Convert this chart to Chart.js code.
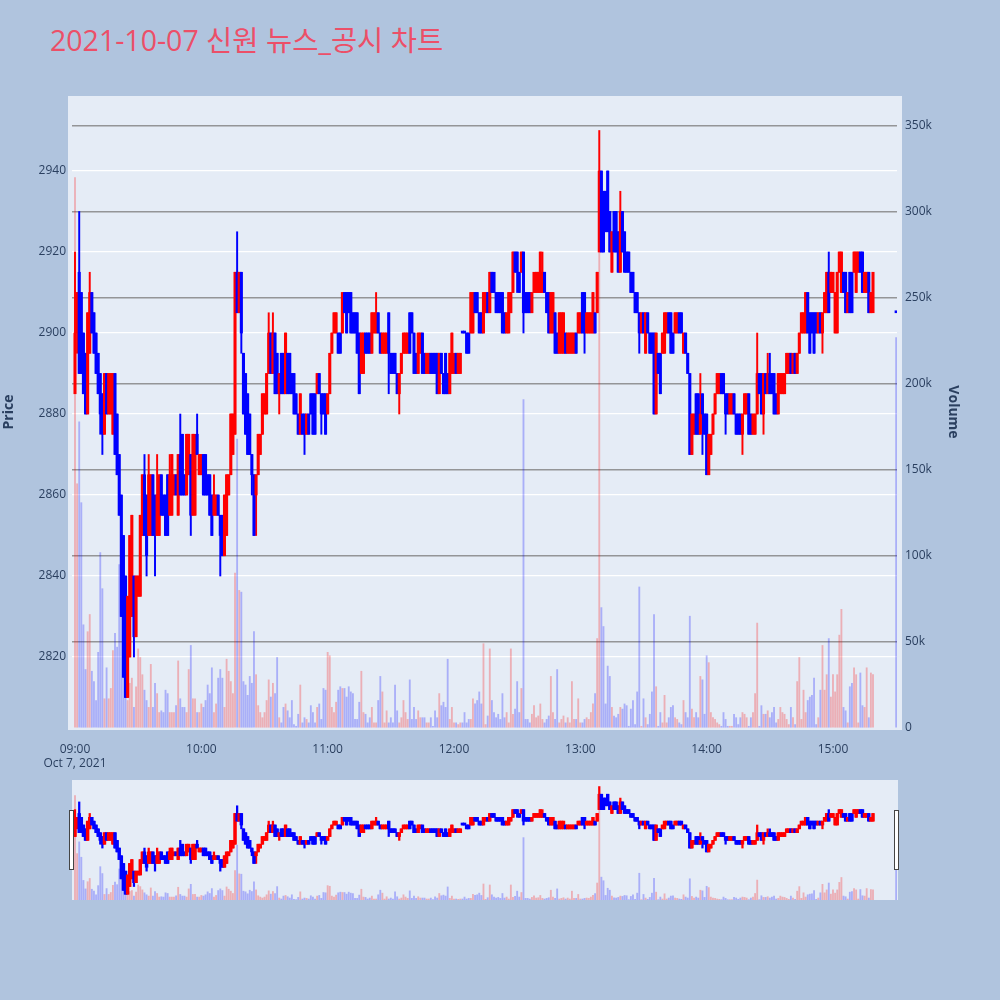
<!DOCTYPE html>
<html lang="ko">
<head>
    <meta charset="UTF-8">
    <title>2021-10-07 신원 뉴스_공시 차트</title>
    <script src="https://cdn.jsdelivr.net/npm/chart.js"></script>
    <style>
        body {
            margin: 0;
            background-color: #b0c4de;
            width: 1000px;
            height: 1000px;
            position: relative;
            overflow: hidden;
            font-family: "Open Sans", "Noto Sans CJK KR", sans-serif;
        }
        .chart-title {
            position: absolute;
            left: 50px;
            top: 22px;
            font-size: 28.5px;
            line-height: 36px;
            color: #ec4f68;
            white-space: nowrap;
        }
        #mainChart { position: absolute; left: 0; top: 0; }
        #sliderChart { position: absolute; left: 0; top: 780px; }
        .slider-handle {
            position: absolute;
            top: 810px;
            width: 3px;
            height: 58px;
            background: #fff;
            border: 1px solid #444;
        }
    </style>
</head>
<body>
    <div class="chart-title">2021-10-07 신원 뉴스_공시 차트</div>
    <canvas id="mainChart" width="1000" height="780"></canvas>
    <canvas id="sliderChart" width="1000" height="120"></canvas>
    <div class="slider-handle" style="left: 69px;"></div>
    <div class="slider-handle" style="left: 894px;"></div>

    <script>
        // one candle per minute from 09:00, plus the 15:30 closing auction
        const opens = [
            2885,2900,2915,2910,2900,2895,2880,2895,2910,2905,2900,2895,2890,2885,2875,2890,2880,2880,2875,2890,
            2880,2870,2860,2850,2840,2810,2820,2830,2840,2825,2835,2835,2850,2865,2860,2850,2850,2865,2860,2850,
            2850,2865,2860,2860,2865,2855,2855,2860,2865,2855,2870,2875,2865,2860,2865,2870,2855,2855,2875,2865,
            2865,2870,2870,2865,2865,2860,2855,2855,2860,2855,2855,2845,2850,2860,2865,2870,2875,2915,2905,2915,
            2895,2890,2885,2880,2870,2865,2860,2865,2870,2875,2880,2880,2890,2900,2890,2900,2895,2885,2895,2895,
            2885,2895,2895,2890,2890,2885,2880,2875,2880,2880,2875,2880,2885,2885,2885,2885,2890,2885,2885,2885,
            2880,2885,2895,2900,2900,2900,2900,2900,2910,2910,2910,2910,2905,2905,2905,2900,2890,2890,2900,2900,
            2900,2895,2900,2900,2905,2900,2895,2895,2895,2905,2895,2895,2895,2890,2885,2890,2895,2895,2895,2905,
            2905,2900,2895,2890,2895,2900,2895,2890,2890,2895,2895,2895,2895,2885,2895,2890,2895,2890,2885,2890,
            2890,2895,2890,2890,2900,2900,2900,2900,2900,2900,2910,2910,2905,2905,2900,2905,2910,2905,2915,2915,
            2910,2910,2910,2910,2905,2900,2900,2905,2910,2920,2920,2915,2915,2920,2910,2910,2910,2905,2910,2910,
            2910,2910,2910,2915,2910,2910,2900,2900,2905,2900,2895,2895,2895,2900,2895,2895,2895,2895,2900,2900,
            2900,2910,2910,2900,2900,2900,2900,2905,2905,2920,2940,2935,2935,2940,2930,2915,2930,2930,2925,2915,
            2930,2925,2920,2920,2915,2915,2910,2910,2905,2900,2905,2895,2905,2900,2900,2900,2880,2895,2895,2895,
            2895,2900,2905,2905,2900,2900,2900,2905,2905,2895,2900,2895,2890,2870,2875,2885,2885,2875,2885,2880,
            2880,2865,2870,2875,2880,2885,2885,2890,2890,2885,2885,2880,2880,2885,2880,2880,2880,2875,2880,2880,
            2885,2880,2875,2875,2880,2890,2890,2880,2890,2885,2890,2890,2890,2885,2880,2885,2885,2885,2890,2890,
            2895,2890,2895,2890,2895,2900,2900,2900,2910,2905,2905,2905,2905,2900,2905,2900,2905,2905,2915,2910,
            2910,2900,2900,2915,2910,2915,2915,2905,2915,2915,2915,2910,2915,2920,2920,2910,2910,2915,2905,2905,
            2905
        ];
        const highs = [
            2920,2910,2930,2910,2900,2895,2905,2915,2910,2905,2900,2895,2890,2885,2890,2890,2890,2890,2890,2890,
            2880,2870,2860,2850,2840,2835,2850,2855,2840,2840,2840,2855,2865,2870,2860,2870,2865,2865,2860,2870,
            2865,2865,2860,2860,2865,2870,2870,2865,2865,2870,2880,2875,2865,2875,2875,2870,2875,2875,2880,2870,
            2870,2870,2870,2865,2865,2860,2865,2860,2860,2855,2855,2860,2865,2865,2880,2880,2915,2925,2915,2915,
            2895,2890,2885,2880,2870,2865,2865,2875,2875,2885,2885,2890,2905,2900,2905,2900,2895,2890,2895,2895,
            2900,2895,2895,2890,2890,2885,2880,2885,2880,2880,2880,2880,2885,2885,2885,2890,2890,2885,2885,2885,
            2885,2895,2900,2905,2905,2900,2900,2910,2910,2910,2910,2910,2905,2905,2905,2900,2900,2900,2900,2900,
            2900,2905,2905,2910,2905,2900,2900,2900,2900,2905,2895,2895,2895,2890,2890,2895,2900,2900,2900,2905,
            2905,2900,2895,2900,2900,2900,2895,2895,2895,2895,2895,2895,2895,2895,2895,2890,2895,2890,2895,2900,
            2895,2895,2895,2895,2900,2900,2900,2900,2910,2910,2910,2910,2905,2905,2910,2910,2910,2915,2915,2915,
            2910,2910,2910,2910,2905,2905,2910,2910,2920,2920,2920,2915,2920,2920,2910,2910,2910,2910,2915,2915,
            2915,2920,2920,2915,2910,2910,2910,2910,2905,2900,2905,2905,2905,2900,2900,2900,2900,2900,2900,2905,
            2905,2910,2910,2905,2905,2905,2910,2905,2915,2950,2940,2935,2935,2940,2930,2925,2930,2930,2925,2935,
            2930,2925,2920,2920,2915,2915,2910,2910,2905,2905,2905,2905,2905,2900,2900,2900,2900,2895,2895,2900,
            2905,2905,2905,2905,2900,2905,2905,2905,2905,2900,2900,2895,2890,2880,2880,2885,2885,2890,2885,2880,
            2880,2875,2875,2880,2885,2890,2890,2890,2890,2885,2885,2885,2885,2885,2880,2880,2880,2880,2885,2885,
            2885,2880,2880,2880,2900,2890,2890,2890,2890,2895,2895,2890,2890,2885,2890,2890,2890,2890,2895,2895,
            2895,2895,2895,2895,2900,2905,2905,2910,2910,2905,2905,2905,2905,2905,2905,2905,2910,2915,2920,2915,
            2915,2910,2915,2920,2920,2915,2915,2910,2915,2915,2920,2920,2920,2920,2920,2915,2915,2915,2910,2915,
            2905
        ];
        const lows = [
            2885,2895,2890,2890,2885,2880,2880,2895,2900,2895,2890,2885,2875,2870,2875,2880,2880,2880,2875,2870,
            2865,2855,2830,2815,2810,2810,2820,2830,2820,2825,2835,2835,2850,2850,2840,2850,2850,2850,2840,2850,
            2850,2855,2855,2850,2850,2855,2855,2860,2860,2855,2860,2860,2860,2860,2865,2850,2855,2855,2870,2865,
            2865,2860,2860,2860,2855,2850,2855,2855,2855,2840,2845,2845,2850,2860,2865,2870,2875,2905,2905,2895,
            2880,2875,2870,2870,2860,2850,2850,2865,2870,2875,2880,2880,2890,2890,2890,2885,2885,2880,2885,2885,
            2885,2885,2885,2885,2880,2880,2875,2875,2875,2870,2875,2875,2880,2875,2875,2885,2885,2875,2880,2875,
            2880,2885,2895,2900,2900,2895,2895,2900,2905,2900,2905,2900,2900,2900,2895,2885,2890,2890,2895,2895,
            2895,2895,2900,2900,2900,2895,2895,2895,2895,2885,2890,2890,2890,2885,2880,2890,2895,2895,2895,2895,
            2900,2890,2890,2890,2895,2890,2890,2890,2890,2890,2890,2890,2885,2885,2890,2885,2885,2885,2885,2890,
            2890,2890,2890,2890,2900,2900,2895,2895,2900,2900,2905,2905,2900,2900,2900,2905,2905,2905,2910,2910,
            2905,2905,2905,2900,2900,2900,2900,2905,2910,2915,2910,2910,2915,2900,2905,2905,2905,2905,2910,2910,
            2910,2910,2910,2910,2905,2900,2900,2900,2895,2895,2895,2895,2895,2895,2895,2895,2895,2895,2895,2900,
            2900,2900,2895,2900,2900,2900,2900,2900,2905,2920,2920,2920,2925,2925,2920,2915,2920,2920,2915,2915,
            2920,2915,2915,2915,2910,2910,2905,2905,2895,2900,2900,2895,2900,2895,2895,2880,2880,2890,2885,2895,
            2895,2900,2900,2895,2895,2900,2900,2900,2900,2895,2895,2890,2870,2870,2875,2875,2875,2875,2870,2875,
            2865,2865,2870,2875,2880,2885,2885,2885,2885,2875,2880,2880,2880,2880,2875,2875,2875,2870,2880,2880,
            2875,2875,2875,2875,2880,2885,2880,2875,2885,2885,2885,2885,2880,2880,2880,2885,2885,2885,2890,2890,
            2890,2890,2890,2890,2895,2900,2900,2900,2900,2895,2900,2895,2900,2900,2900,2895,2905,2905,2905,2910,
            2910,2900,2900,2915,2910,2910,2905,2905,2905,2905,2915,2910,2915,2915,2910,2910,2910,2905,2905,2905,
            2905
        ];
        const closes = [
            2900,2910,2890,2890,2885,2880,2905,2910,2900,2895,2890,2885,2880,2875,2890,2880,2890,2890,2890,2870,
            2865,2855,2830,2815,2810,2835,2850,2855,2825,2840,2840,2855,2865,2850,2845,2865,2865,2850,2855,2860,
            2865,2855,2855,2850,2850,2865,2870,2865,2860,2870,2860,2860,2860,2875,2875,2855,2875,2875,2870,2870,
            2870,2860,2860,2860,2855,2850,2860,2860,2855,2850,2845,2860,2865,2865,2880,2880,2915,2905,2915,2900,
            2880,2875,2870,2870,2865,2850,2865,2875,2875,2885,2885,2890,2900,2890,2900,2885,2885,2890,2885,2885,
            2900,2885,2885,2885,2880,2880,2875,2885,2875,2875,2880,2875,2880,2875,2875,2890,2885,2880,2880,2875,
            2885,2895,2900,2905,2905,2895,2895,2910,2905,2900,2905,2900,2900,2900,2895,2885,2900,2900,2895,2895,
            2895,2905,2905,2905,2900,2895,2900,2900,2900,2895,2890,2890,2890,2885,2890,2895,2900,2900,2900,2895,
            2900,2890,2890,2900,2900,2890,2890,2895,2895,2890,2890,2890,2885,2895,2890,2885,2885,2885,2895,2900,
            2895,2890,2895,2895,2900,2900,2895,2895,2910,2910,2905,2905,2900,2900,2910,2910,2905,2915,2910,2910,
            2905,2905,2905,2900,2900,2905,2910,2910,2920,2915,2915,2910,2920,2905,2905,2905,2905,2910,2915,2915,
            2915,2920,2915,2910,2905,2900,2910,2910,2895,2895,2905,2905,2905,2895,2900,2900,2900,2900,2895,2905,
            2905,2900,2900,2905,2905,2905,2910,2900,2915,2940,2920,2920,2925,2925,2920,2925,2920,2920,2915,2930,
            2920,2915,2915,2915,2910,2910,2905,2905,2900,2905,2900,2905,2900,2895,2895,2880,2900,2890,2885,2900,
            2905,2905,2900,2895,2895,2905,2905,2900,2900,2900,2895,2890,2870,2880,2880,2875,2875,2880,2880,2875,
            2865,2875,2875,2880,2885,2890,2890,2885,2885,2880,2880,2885,2885,2880,2875,2875,2875,2880,2885,2885,
            2875,2875,2880,2880,2890,2885,2880,2890,2885,2890,2885,2885,2880,2880,2890,2890,2890,2890,2895,2895,
            2890,2895,2890,2895,2900,2905,2905,2910,2900,2895,2900,2895,2900,2905,2900,2905,2910,2915,2905,2915,
            2915,2910,2915,2920,2920,2910,2905,2910,2905,2905,2920,2920,2920,2915,2910,2915,2915,2905,2910,2915,
            2905
        ];
        // traded volume per candle, in thousands of shares
        const volumeK = [
            320,142,178,131,60,34,56,66,33,27,16,44,102,81,17,35,17,23,45,55,
            47,95,72,45,38,16,26,29,12,24,46,41,31,22,16,12,37,12,26,20,
            9,10,9,22,20,9,9,9,13,39,17,12,12,9,34,48,17,17,9,9,
            14,12,16,25,20,35,9,14,29,34,29,12,40,33,27,20,90,168,80,79,
            27,25,19,30,26,56,31,13,9,6,9,16,28,18,26,20,41,6,3,12,
            14,10,6,16,2,1,8,25,3,6,5,3,13,9,3,12,14,5,23,22,
            44,42,12,9,15,22,24,23,23,18,24,21,20,5,5,15,33,9,8,3,
            6,12,3,3,16,30,21,3,10,3,6,3,25,10,3,6,16,9,5,28,
            5,12,5,10,6,6,6,3,3,6,1,10,6,20,13,15,12,40,5,12,
            3,3,2,3,3,9,3,5,5,17,14,16,21,14,49,2,7,46,16,9,
            6,8,5,20,6,9,3,46,8,11,27,9,23,191,5,5,3,8,13,6,
            7,14,5,3,5,7,30,9,5,34,3,5,7,3,6,3,27,5,5,17,
            3,3,5,6,5,9,14,20,52,276,70,59,14,36,30,12,7,6,8,12,
            11,14,13,1,11,16,2,21,82,1,17,6,2,8,21,66,24,1,9,3,
            19,3,6,12,13,6,5,3,2,16,9,6,65,11,6,9,6,30,28,8,
            42,38,9,6,5,3,2,1,9,5,1,1,1,8,6,2,6,9,8,6,
            1,6,9,20,61,1,13,8,8,10,6,9,12,3,5,12,9,8,5,2,
            12,6,2,27,41,5,22,9,16,18,19,29,2,6,22,48,22,31,52,18,
            31,21,31,54,69,12,10,3,24,26,35,31,3,32,13,12,35,6,32,31,
            227
        ];
        const closingAuctionMinute = 390;   // 15:30

        const timeTicks = [0, 60, 120, 180, 240, 300, 360];
        const timeLabels = ['09:00', '10:00', '11:00', '12:00', '13:00', '14:00', '15:00'];
        const dateLabel = 'Oct 7, 2021';
        const priceTicks = [2820, 2840, 2860, 2880, 2900, 2920, 2940];
        const volumeTicks = [0, 50, 100, 150, 200, 250, 300, 350];

        const xRange = { min: -1.425, max: 390.4 };
        const priceRange = { min: 2802.47, max: 2958.52 };
        const volumeRange = { min: 0, max: 367.44 };

        const minuteOf = i => (i < opens.length - 1 ? i : closingAuctionMinute);
        const rising = opens.map((o, i) => closes[i] > o);

        const RED = '#ff0000';
        const BLUE = '#0000ff';
        const candleColors = rising.map(r => (r ? RED : BLUE));
        const volumeColors = rising.map(r => (r ? 'rgba(255,0,0,0.26)' : 'rgba(0,0,255,0.26)'));

        const wickData = highs.map((h, i) => ({ x: minuteOf(i), y: [lows[i], h] }));
        const bodyData = opens.map((o, i) => ({ x: minuteOf(i), y: [o, closes[i]] }));
        const volumeData = volumeK.map((v, i) => ({ x: minuteOf(i), y: v }));

        // fills the plot area (plus a small margin) before anything else
        const plotBackground = {
            id: 'plotBackground',
            beforeDraw(chart, args, opts) {
                const a = chart.chartArea;
                const ctx = chart.ctx;
                ctx.save();
                ctx.fillStyle = opts.color;
                ctx.fillRect(a.left - opts.padX, a.top, a.width + opts.padX * 2 + 1, a.height + opts.padBottom);
                ctx.restore();
            }
        };

        function buildDatasets(bodyWidth, wickWidth) {
            return [
                {
                    label: 'Volume', data: volumeData, yAxisID: 'y2', order: 3, grouped: false,
                    backgroundColor: volumeColors, barThickness: 1.2
                },
                {
                    label: 'Wick', data: wickData, yAxisID: 'y', order: 2, grouped: false,
                    backgroundColor: candleColors, barThickness: wickWidth
                },
                {
                    label: 'Price', data: bodyData, yAxisID: 'y', order: 1, grouped: false,
                    backgroundColor: candleColors, barThickness: bodyWidth, minBarLength: 2
                }
            ];
        }

        const tickFont = { family: '"Open Sans", sans-serif', size: 12 };
        const titleFont = { family: '"Open Sans", sans-serif', size: 14, weight: 'bold' };
        const inkColor = '#2a3f5f';

        new Chart(document.getElementById('mainChart'), {
            type: 'bar',
            data: { datasets: buildDatasets(2.4, 1.3) },
            plugins: [plotBackground],
            options: {
                responsive: false,
                animation: false,
                layout: { padding: { top: 96, right: 38, left: 0, bottom: 0 } },
                plugins: {
                    legend: { display: false },
                    tooltip: { enabled: false },
                    plotBackground: { color: '#e5ecf6', padX: 4, padBottom: 2 }
                },
                scales: {
                    x: {
                        type: 'linear', min: xRange.min, max: xRange.max, offset: false,
                        grid: { display: false }, border: { display: false },
                        afterBuildTicks: s => { s.ticks = timeTicks.map(v => ({ value: v })); },
                        afterFit: s => { s.height = 52; },
                        ticks: {
                            autoSkip: false, maxRotation: 0, padding: 6, color: inkColor, font: tickFont,
                            callback: v => {
                                const label = timeLabels[timeTicks.indexOf(v)];
                                return v === timeTicks[0] ? [label, dateLabel] : label;
                            }
                        }
                    },
                    y: {
                        position: 'left', min: priceRange.min, max: priceRange.max,
                        grid: { color: '#ffffff', lineWidth: 1.3, drawTicks: false }, border: { display: false },
                        afterBuildTicks: s => { s.ticks = priceTicks.map(v => ({ value: v })); },
                        afterFit: s => { s.width = 72; },
                        ticks: { padding: 6, color: inkColor, font: tickFont, callback: v => String(v) },
                        title: { display: true, text: 'Price', color: inkColor, font: titleFont, padding: 1 }
                    },
                    y2: {
                        position: 'right', min: volumeRange.min, max: volumeRange.max,
                        grid: {
                            color: c => (c.tick && c.tick.value === 0 ? 'rgba(0,0,0,0)' : 'rgba(128,128,128,0.8)'),
                            lineWidth: 1.5, drawTicks: false
                        },
                        border: { display: false },
                        afterBuildTicks: s => { s.ticks = volumeTicks.map(v => ({ value: v })); },
                        afterFit: s => { s.width = 65; },
                        ticks: {
                            padding: 8, color: inkColor, font: tickFont,
                            callback: v => (v === 0 ? '0' : v + 'k')
                        },
                        title: { display: true, text: 'Volume', color: inkColor, font: titleFont, padding: 1 }
                    }
                }
            }
        });

        // range slider overview underneath
        new Chart(document.getElementById('sliderChart'), {
            type: 'bar',
            data: { datasets: buildDatasets(2.8, 1.6) },
            plugins: [plotBackground],
            options: {
                responsive: false,
                animation: false,
                layout: { padding: { top: 0, right: 103, left: 72, bottom: 0 } },
                plugins: {
                    legend: { display: false },
                    tooltip: { enabled: false },
                    plotBackground: { color: '#e5ecf6', padX: 0, padBottom: 0 }
                },
                scales: {
                    x: { type: 'linear', min: xRange.min, max: xRange.max, offset: false, display: false },
                    y: { min: priceRange.min, max: priceRange.max, display: false },
                    y2: { min: volumeRange.min, max: volumeRange.max, display: false }
                }
            }
        });
    </script>
</body>
</html>
